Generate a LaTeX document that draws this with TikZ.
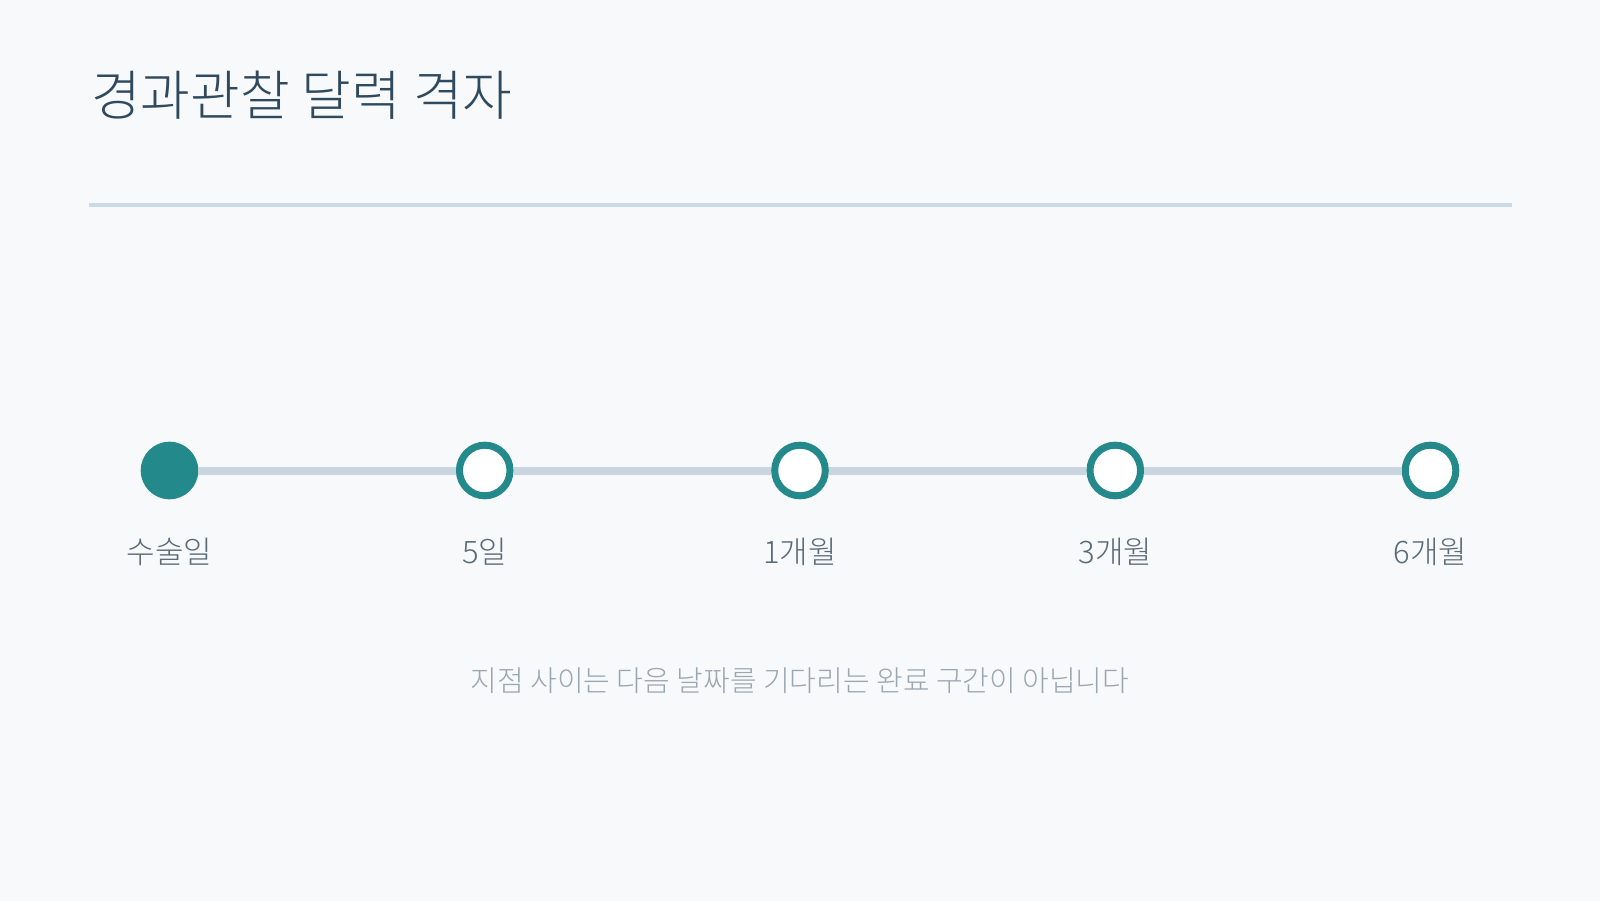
\documentclass[tikz,border=0pt]{standalone}
\usepackage{fontspec}
\setmainfont{Noto Sans CJK KR Light}
\usetikzlibrary{positioning}
\definecolor{bg}{HTML}{F7F9FB}
\definecolor{teal}{HTML}{23898A}
\definecolor{track}{HTML}{C9D6E0}
\definecolor{rulec}{HTML}{CCDAE5}
\definecolor{titlec}{HTML}{2F4A5E}
\definecolor{labelc}{HTML}{5A6A78}
\definecolor{notec}{HTML}{9AA6B0}
\tikzset{
  hollowdot/.style={circle, draw=teal, fill=white, line width=7pt, minimum size=50.6pt, inner sep=0pt, outer sep=3.5pt},
  filleddot/.style={circle, fill=teal, minimum size=57.6pt, inner sep=0pt, outer sep=0pt},
  tracklink/.style={draw=track, line width=8pt},
  steplabel/.style={text=labelc, font=\fontsize{31}{36}\selectfont, inner sep=0pt},
}
\begin{document}
\begin{tikzpicture}[x=1pt,y=-1pt]
\fill[bg] (0,0) rectangle (1600,901);
\useasboundingbox (0,0) rectangle (1600,901);
\node[anchor=west, inner sep=0pt, text=titlec, font=\fontsize{54}{62}\selectfont] (title) at (91,95) {경과관찰 달력 격자};
\coordinate (ruleL) at (89,205);
\coordinate (ruleR) at (1511.5,205);
\draw[rulec, line width=3.5pt] (ruleL) -- (ruleR);
\node[filleddot] (d1) at (169.5,470.5) {};
\node[hollowdot] (d2) at (484.75,470.5) {};
\node[hollowdot] (d3) at (800,470.5) {};
\node[hollowdot] (d4) at (1115.25,470.5) {};
\node[hollowdot] (d5) at (1430.5,470.5) {};
\draw[tracklink] (d1) -- (d2);
\draw[tracklink] (d2) -- (d3);
\draw[tracklink] (d3) -- (d4);
\draw[tracklink] (d4) -- (d5);
\node[steplabel] (l1) at (169.5,551.5) {수술일};
\node[steplabel] (l2) at (484.75,551.5) {5일};
\node[steplabel] (l3) at (800,551.5) {1개월};
\node[steplabel] (l4) at (1115.25,551.5) {3개월};
\node[steplabel] (l5) at (1430.5,551.5) {6개월};
\node[text=notec, inner sep=0pt, font=\fontsize{29}{34}\selectfont] (note) at (800,680.5) {지점 사이는 다음 날짜를 기다리는 완료 구간이 아닙니다};
\end{tikzpicture}
\end{document}
